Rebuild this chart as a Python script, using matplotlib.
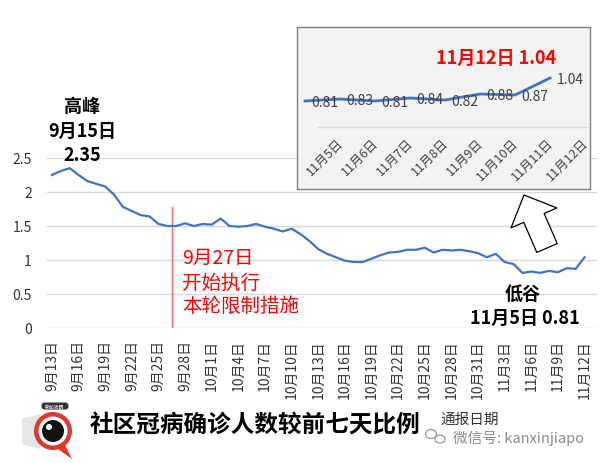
import matplotlib
matplotlib.use("Agg")
import matplotlib.pyplot as plt
import matplotlib.transforms as mtransforms
from matplotlib.patches import Circle, Polygon, FancyArrowPatch, FancyBboxPatch, ArrowStyle, Ellipse
import numpy as np
import pandas as pd

plt.rcParams["font.family"] = ["Noto Sans CJK SC", "DejaVu Sans"]

# daily ratio, 9/13 .. 11/12
dates = pd.date_range("2021-09-13", "2021-11-12", freq="D")
ratio_sep = [2.25, 2.31, 2.35, 2.25, 2.16, 2.12, 2.08, 1.96, 1.78, 1.72,
             1.66, 1.64, 1.53, 1.50, 1.50, 1.54, 1.50, 1.53]
ratio_oct = [1.52, 1.61, 1.50, 1.49, 1.50, 1.53, 1.49, 1.46, 1.42, 1.46,
             1.38, 1.28, 1.16, 1.09, 1.04, 0.99, 0.97, 0.97, 1.02, 1.07,
             1.11, 1.12, 1.15, 1.15, 1.18, 1.11, 1.15, 1.14, 1.15, 1.13, 1.10]
ratio_nov = [1.04, 1.09, 0.97, 0.94, 0.81, 0.83, 0.81, 0.84, 0.82, 0.88, 0.87, 1.04]
ratio = ratio_sep + ratio_oct + ratio_nov
date_labels = [f"{d.month}月{d.day}日" for d in dates]

# zoomed-in inset: last 8 days
inset_labels = ["11月5日", "11月6日", "11月7日", "11月8日", "11月9日", "11月10日", "11月11日", "11月12日"]
inset_values = [0.81, 0.83, 0.81, 0.84, 0.82, 0.88, 0.87, 1.04]

start_idx = date_labels.index("9月27日")

W, H = 602, 464
fig = plt.figure(figsize=(W / 100, H / 100), dpi=100)
fig.patch.set_facecolor("white")


def box(x0, y0, x1, y1):
    # pixel box (top-left origin) -> figure fraction rect
    return [x0 / W, 1 - y1 / H, (x1 - x0) / W, (y1 - y0) / H]


# main chart
ax = fig.add_axes(box(47, 159, 597, 329))
x = np.arange(len(ratio))
ax.plot(x, ratio, color="#4472C4", lw=1.6, zorder=3)
ax.set_xlim(-0.56, 61.4)
ax.set_ylim(0, 2.5)
ax.set_yticks([0, 0.5, 1, 1.5, 2, 2.5])
ax.set_yticklabels(["0", "0.5", "1", "1.5", "2", "2.5"], fontsize=10, color="#333333")
ax.set_xticks(x[::3])
ax.set_xticklabels(date_labels[::3], rotation=90, fontsize=10, color="#333333")
ax.tick_params(axis="y", length=0, pad=11)
ax.tick_params(axis="x", length=0, pad=8)
ax.grid(axis="y", color="#D9D9D9", lw=1)
ax.set_axisbelow(True)
for s in ax.spines.values():
    s.set_visible(False)
ax.axvline(start_idx - 0.45, ymin=0, ymax=0.71, color="#FF6666", lw=1)

# inset
ax2 = fig.add_axes(box(297, 28, 590, 190), zorder=2)
ax2.set_facecolor("#F2F2F2")
ax2.patch.set_alpha(0.9)
for s in ax2.spines.values():
    s.set_color("#7F7F7F")
    s.set_linewidth(1)
ax2.set_xlim(-0.8, 7.57)
ax2.set_ylim(-0.07, 1.55)
ax2.set_xticks([])
ax2.set_yticks([])
xi = np.arange(len(inset_values))
shift = mtransforms.offset_copy(ax2.transData, fig=fig, x=-20, y=0, units="dots")
ax2.plot(xi, inset_values, color="#4472C4", lw=2, transform=shift, zorder=3)
ax2.axhline(0.55, xmin=0.07, xmax=0.99, color="#D9D9D9", lw=1)
for i, (lab, v) in enumerate(zip(inset_labels, inset_values)):
    ax2.text(i, v - 0.01, f"{v:.2f}", ha="center", va="center", fontsize=10, color="#404040", zorder=4)
    ax2.text(i + 0.45, 0.42, lab, rotation=45, rotation_mode="anchor",
             ha="right", va="center", fontsize=9, color="#404040")
ax2.text(0.68, 0.81, "11月12日 1.04", transform=ax2.transAxes, ha="center", va="center",
         fontsize=13, fontweight="bold", color="#FF0000")

# overlay for annotations (pixel coords)
ov = fig.add_axes([0, 0, 1, 1], zorder=3)
ov.set_xlim(0, W)
ov.set_ylim(H, 0)
ov.axis("off")

bold = dict(ha="center", va="center", fontweight="bold", color="black", fontsize=13)
ov.text(82, 106, "高峰", **bold)
ov.text(82, 131, "9月15日", **bold)
ov.text(82, 156, "2.35", **bold)
ov.text(523, 294, "低谷", **bold)
ov.text(525, 318, "11月5日 0.81", **bold)

red = dict(ha="left", va="center", color="#FF0000", fontsize=14)
ov.text(182, 258, "9月27日", **red)
ov.text(182, 283, "开始执行", **red)
ov.text(182, 307, "本轮限制措施", **red)

arrow = FancyArrowPatch((547, 249), (524, 196),
                        arrowstyle=ArrowStyle.Simple(head_length=18, head_width=36, tail_width=16),
                        mutation_scale=1, shrinkA=0, shrinkB=0,
                        facecolor="white", edgecolor="black", lw=0.9)
ov.add_patch(arrow)

# bottom caption
ov.text(90, 425, "社区冠病确诊人数较前七天比例", ha="left", va="center",
        fontsize=17, fontweight="bold", color="black")
ov.text(440, 420, "通报日期", ha="left", va="center", fontsize=10.5, color="#333333")
ov.add_patch(Ellipse((431, 435), 11, 9, fill=False, edgecolor="#9A9A9A", lw=0.9))
ov.add_patch(Ellipse((440, 440), 10, 8, fill=False, edgecolor="#9A9A9A", lw=0.9))
ov.text(453, 438, "微信号: kanxinjiapo", ha="left", va="center", fontsize=10.5, color="#8C8C8C")

# logo
ov.add_patch(Polygon([[22, 420], [40, 415], [40, 450], [22, 445]], closed=True,
                     facecolor="#E6E6E6", edgecolor="none"))
ov.add_patch(Polygon([[55, 448], [72, 460], [64, 444]], closed=True, facecolor="#E03A2F", edgecolor="none"))
ov.add_patch(Circle((53, 432), 19, facecolor="#E03A2F", edgecolor="none"))
ov.add_patch(Circle((53, 432), 14.5, facecolor="white", edgecolor="none"))
ov.add_patch(Circle((53, 432), 11, facecolor="#111111", edgecolor="none"))
ov.add_patch(Circle((49, 428), 3, facecolor="white", edgecolor="none"))
ov.add_patch(FancyBboxPatch((42, 404), 26, 6, boxstyle="round,pad=0.5,rounding_size=3",
                            facecolor="#333333", edgecolor="none"))
ov.text(55, 407, "新加坡眼", ha="center", va="center", fontsize=3.5, color="white")

fig.savefig("out.png", dpi=100)
